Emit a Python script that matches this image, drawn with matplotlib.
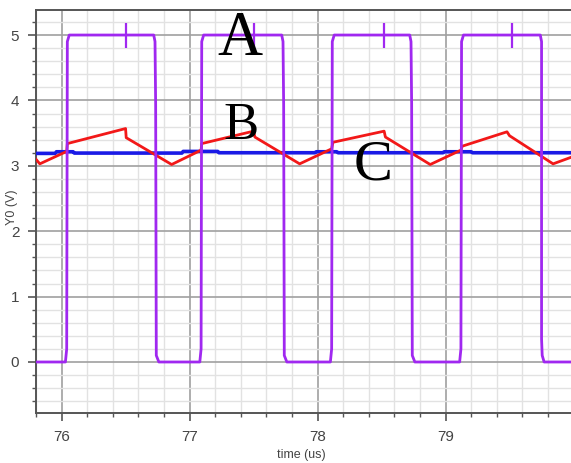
import matplotlib
matplotlib.use("Agg")
import matplotlib.pyplot as plt
from matplotlib.ticker import MultipleLocator

# square wave (purple)
vo_t = [75.80, 76.03, 76.04, 76.045, 76.06,
        76.72, 76.73, 76.735, 76.74, 76.76,
        77.08, 77.09, 77.095, 77.11,
        77.72, 77.73, 77.735, 77.74, 77.76,
        78.10, 78.11, 78.115, 78.13,
        78.72, 78.73, 78.735, 78.74, 78.76,
        79.11, 79.12, 79.125, 79.14,
        79.74, 79.75, 79.75, 79.755, 79.77, 79.98]
vo_v = [0.00, 0.00, 0.20, 4.90, 5.00,
        5.00, 4.90, 3.95, 0.10, 0.00,
        0.00, 0.20, 4.90, 5.00,
        5.00, 4.90, 3.95, 0.10, 0.00,
        0.00, 0.20, 4.90, 5.00,
        5.00, 4.90, 3.95, 0.10, 0.00,
        0.00, 0.20, 4.90, 5.00,
        5.00, 4.90, 0.35, 0.10, 0.00, 0.00]
spike_t = [76.50, 77.50, 78.52, 79.52]
spike_lo, spike_hi = 4.80, 5.18

# sawtooth (red)
ramp_t = [75.80, 75.83, 76.04, 76.045, 76.50, 76.505, 76.86, 77.09, 77.095,
          77.50, 77.51, 77.86, 78.11, 78.12, 78.52, 78.53, 78.88, 79.12,
          79.13, 79.48, 79.50, 79.84, 79.98]
ramp_v = [3.10, 3.03, 3.22, 3.34, 3.57, 3.43, 3.02, 3.24, 3.34,
          3.53, 3.44, 3.03, 3.26, 3.36, 3.53, 3.44, 3.02, 3.24,
          3.30, 3.52, 3.46, 3.03, 3.13]

# reference level (blue)
ref_t = [75.80, 75.95, 75.96, 76.09, 76.10, 76.94, 76.95, 77.22, 77.23,
         77.98, 77.99, 78.15, 78.16, 78.98, 78.99, 79.20, 79.21, 79.98]
ref_v = [3.19, 3.19, 3.215, 3.215, 3.195, 3.195, 3.22, 3.22, 3.20,
         3.20, 3.215, 3.215, 3.20, 3.20, 3.215, 3.215, 3.20, 3.20]

labels = ["A", "B", "C"]
label_x = [77.39, 77.40, 78.43]
label_y = [4.93, 3.61, 3.01]
label_size = [45, 38, 42]

fig = plt.figure(figsize=(5.71, 4.63), dpi=100)
ax = fig.add_axes([0.063, 0.108, 0.937, 0.870])

ax.set_xlim(75.8, 79.98)
ax.set_ylim(-0.78, 5.38)

ax.xaxis.set_major_locator(MultipleLocator(1))
ax.xaxis.set_minor_locator(MultipleLocator(0.2))
ax.yaxis.set_major_locator(MultipleLocator(1))
ax.yaxis.set_minor_locator(MultipleLocator(0.2))
ax.grid(which="major", color="#a0a0a0", lw=1.2)
ax.grid(which="minor", color="#e2e2e2", lw=1.0)
ax.set_axisbelow(True)

ax.plot(ref_t, ref_v, color="#1a1ae6", lw=2.6, zorder=3)
ax.plot(ramp_t, ramp_v, color="#f21818", lw=2.0, zorder=4)
ax.plot(vo_t, vo_v, color="#a028f0", lw=2.0, zorder=5)
ax.vlines(spike_t, spike_lo, spike_hi, color="#a028f0", lw=1.6, zorder=5)

for s, x, y, fs in zip(labels, label_x, label_y, label_size):
    ax.text(x, y, s, fontsize=fs, family="Liberation Serif",
            ha="center", va="center", color="black", zorder=6)

for side in ["left", "bottom", "top"]:
    ax.spines[side].set_color("#555555")
    ax.spines[side].set_linewidth(1.4)
ax.spines["right"].set_visible(False)

ax.tick_params(which="major", length=6, width=1.2, color="#555555",
               labelsize=11, labelcolor="#444444", pad=6)
ax.tick_params(which="minor", length=3, width=1.0, color="#555555")
for lab in ax.get_xticklabels() + ax.get_yticklabels():
    lab.set_family("Liberation Sans")

ax.set_xlabel("time (us)", fontsize=9, color="#444444", family="Liberation Sans",
              labelpad=2)
ax.xaxis.set_label_coords(0.496, -0.09)
ax.set_ylabel("Y0 (V)", fontsize=9, color="#444444", family="Liberation Sans")
ax.yaxis.set_label_coords(-0.034, 0.51)

fig.savefig("out.png", dpi=100)
